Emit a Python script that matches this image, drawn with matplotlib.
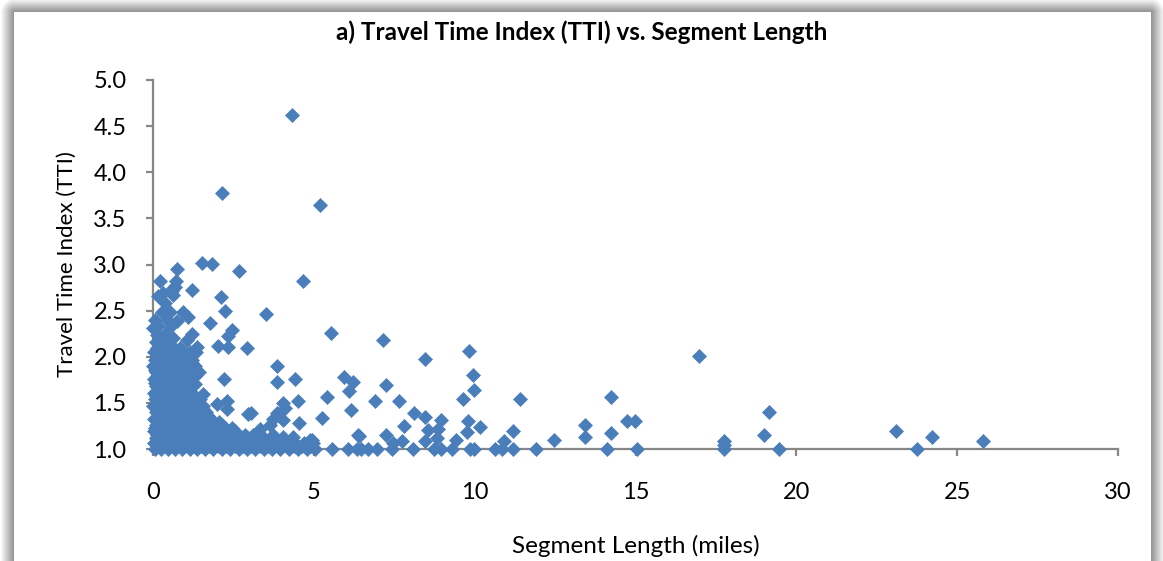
import numpy as np
import matplotlib
matplotlib.use("Agg")
import matplotlib.pyplot as plt

# scattered segments: (segment length [miles], TTI)
spread_pts = [
    (4.33, 4.62), (2.15, 3.77), (5.19, 3.64),
    (0.74, 2.95), (1.51, 3.02), (1.82, 3.01), (2.67, 2.93), (4.65, 2.82),
    (0.22, 2.82), (0.71, 2.82), (1.20, 2.72), (2.10, 2.65), (0.16, 2.66),
    (0.31, 2.69), (0.62, 2.75), (0.68, 2.76), (0.58, 2.71), (0.63, 2.67),
    (2.24, 2.50), (3.50, 2.46), (0.92, 2.48), (1.09, 2.43), (1.77, 2.37),
    (0.74, 2.39), (0.37, 2.58), (0.27, 2.49), (0.53, 2.49),
    (5.53, 2.26), (2.45, 2.29), (2.33, 2.22), (2.01, 2.12), (2.33, 2.11),
    (2.91, 2.09), (1.36, 2.11), (0.00, 2.31), (0.11, 2.24), (0.37, 2.25),
    (1.20, 2.25), (0.63, 2.20), (1.05, 2.18), (0.22, 2.11),
    (3.86, 1.90), (2.21, 1.76), (3.85, 1.73), (4.41, 1.76), (5.40, 1.56),
    (4.52, 1.52), (4.05, 1.50), (5.24, 1.34), (4.55, 1.28), (2.96, 1.38),
    (1.98, 1.49), (2.29, 1.43), (2.31, 1.52), (1.31, 1.71), (1.56, 1.60),
    (7.16, 2.18), (5.94, 1.78), (6.23, 1.73), (6.10, 1.63), (6.15, 1.42),
    (7.23, 1.69), (6.90, 1.52), (7.66, 1.52), (8.46, 1.98), (9.82, 2.06),
    (9.96, 1.80), (9.98, 1.64), (9.65, 1.54), (11.41, 1.54), (8.11, 1.39),
    (8.46, 1.35), (8.94, 1.31), (8.54, 1.21), (8.87, 1.22), (7.80, 1.25),
    (7.24, 1.15), (7.73, 1.09), (7.45, 1.07), (6.39, 1.14), (8.46, 1.09),
    (8.82, 1.12), (9.80, 1.30), (9.75, 1.18), (10.16, 1.24), (9.42, 1.10),
    (11.20, 1.20), (10.91, 1.09), (12.46, 1.10), (13.44, 1.26), (13.44, 1.13),
    (14.23, 1.56), (14.75, 1.30), (14.98, 1.30), (14.23, 1.17), (14.10, 1.00),
    (15.05, 1.00), (16.96, 2.01), (19.16, 1.40), (18.99, 1.15), (19.47, 1.00),
    (17.76, 1.09), (17.76, 1.04), (17.76, 1.00), (23.10, 1.20), (23.74, 1.00),
    (24.21, 1.13), (25.79, 1.09),
    (4.10, 1.44), (4.05, 1.31), (3.84, 1.39), (3.74, 1.33), (3.64, 1.26),
    (3.33, 1.22), (3.05, 1.39), (3.43, 1.13), (3.74, 1.15), (4.05, 1.13),
    (4.36, 1.13), (4.88, 1.10), (4.98, 1.06), (6.38, 1.15), (4.36, 1.08),
    (4.93, 1.10),
    (5.55, 1.00), (6.07, 1.00), (6.33, 1.00), (6.46, 1.00), (6.69, 1.00),
    (6.95, 1.00), (7.42, 1.00), (8.09, 1.00), (8.73, 1.00), (8.94, 1.00),
    (9.28, 1.00), (9.85, 1.00), (9.98, 1.00), (10.63, 1.00), (10.84, 1.00),
    (11.18, 1.00), (11.90, 1.00),
]

# dense group of short segments, listed row by row (TTI: lengths)
dense_rows = {
    2.40: [0.05, 0.45],
    2.33: [0.15, 0.55],
    2.16: [0.08, 0.30, 0.48],
    2.10: [0.12, 0.40, 0.65, 0.85],
    2.05: [0.02, 0.18, 0.35, 0.55, 0.72, 0.95, 1.15, 1.35],
    2.00: [0.10, 0.32, 0.52, 0.90, 1.10],
    1.97: [0.06, 0.25, 0.42, 0.60, 0.80, 1.02, 1.22],
    1.93: [0.12, 0.38, 0.58, 0.78, 0.98, 1.20],
    1.90: [0.01, 0.15, 0.33, 0.50, 0.68, 0.88, 1.10, 1.30],
    1.86: [0.05, 0.22, 0.40, 0.72, 0.92, 1.12, 1.35],
    1.83: [0.08, 0.26, 0.44, 0.62, 0.82, 1.00, 1.20, 1.42],
    1.79: [0.12, 0.30, 0.50, 0.70, 0.90, 1.10, 1.30],
    1.76: [0.03, 0.20, 0.38, 0.56, 0.75, 0.95, 1.12],
    1.72: [0.06, 0.24, 0.42, 0.60, 0.80, 1.00],
    1.68: [0.10, 0.28, 0.46, 0.65, 0.84, 1.05, 1.18],
    1.64: [0.14, 0.32, 0.52, 0.70, 0.90, 1.08],
    1.61: [0.02, 0.18, 0.36, 0.55, 0.74, 0.92, 1.12],
    1.57: [0.10, 0.30, 0.48, 0.68, 0.88, 1.10, 1.30],
    1.54: [0.07, 0.25, 0.43, 0.62, 0.82, 1.02, 1.22, 1.45],
    1.50: [0.12, 0.30, 0.50, 0.70, 0.92, 1.15, 1.38],
    1.47: [0.01, 0.16, 0.34, 0.52, 0.72, 0.90, 1.10, 1.32, 1.55],
    1.43: [0.12, 0.30, 0.50, 0.70, 0.92, 1.12, 1.35, 1.55],
    1.40: [0.08, 0.26, 0.44, 0.63, 0.82, 1.02, 1.22, 1.42, 1.65],
    1.36: [0.14, 0.32, 0.50, 0.70, 0.90, 1.10, 1.30, 1.50, 1.72],
    1.33: [0.03, 0.20, 0.38, 0.56, 0.75, 0.95, 1.15, 1.36, 1.58, 1.80],
    1.29: [0.12, 0.30, 0.52, 0.72, 0.92, 1.12, 1.35, 1.60, 1.85, 2.05],
    1.26: [0.10, 0.28, 0.47, 0.66, 0.86, 1.06, 1.27, 1.48, 1.70, 1.92, 2.15],
    1.23: [0.05, 0.22, 0.42, 0.62, 0.82, 1.02, 1.25, 1.50, 1.75, 2.00, 2.25,
           2.45],
    1.19: [0.02, 0.18, 0.36, 0.55, 0.75, 0.95, 1.16, 1.38, 1.60, 1.83, 2.05,
           2.30, 2.55],
    1.15: [0.12, 0.30, 0.50, 0.70, 0.92, 1.15, 1.40, 1.65, 1.90, 2.12, 2.38,
           2.62, 2.85, 3.12],
    1.12: [0.08, 0.26, 0.45, 0.65, 0.86, 1.07, 1.30, 1.52, 1.75, 1.98, 2.22,
           2.46, 2.72, 3.00, 3.25],
    1.09: [0.14, 0.34, 0.55, 0.75, 0.96, 1.18, 1.40, 1.64, 1.88, 2.12, 2.36,
           2.60, 2.88, 3.15, 3.40, 3.65, 3.95],
    1.06: [0.02, 0.20, 0.40, 0.60, 0.82, 1.05, 1.28, 1.52, 1.76, 2.00, 2.25,
           2.50, 2.76, 3.02, 3.28, 3.55, 3.82, 4.10, 4.40, 4.70],
    1.03: [0.12, 0.32, 0.55, 0.78, 1.00, 1.25, 1.50, 1.75, 2.02, 2.28, 2.54,
           2.80, 3.06, 3.32, 3.58, 3.84, 4.12, 4.38, 4.62, 4.90],
    1.00: [0.05, 0.25, 0.46, 0.68, 0.90, 1.14, 1.38, 1.62, 1.88, 2.14, 2.40,
           2.66, 2.92, 3.18, 3.44, 3.70, 3.96, 4.22, 4.50, 4.78, 5.05],
}

seg_len = [p[0] for p in spread_pts]
tti = [p[1] for p in spread_pts]
for yv, xs in dense_rows.items():
    seg_len += xs
    tti += [yv] * len(xs)

W, H = 1163, 561
fig = plt.figure(figsize=(W / 100, H / 100), dpi=100)

# drop-shadow frame around the chart area
bg = fig.add_axes([0, 0, 1, 1], zorder=-10)
yy, xx = np.mgrid[0:H, 0:W]
x0, x1, y0 = 14, 1150, 12
dx = np.maximum(np.maximum(x0 - xx, xx - x1), 0)
dy = np.maximum(y0 - yy, 0)
d = np.sqrt(dx ** 2 + dy ** 2)
shade = np.where(d > 0, 0.55 + 0.45 * np.clip(d / 14.0, 0, 1), 1.0)
bg.imshow(shade, cmap="gray", vmin=0, vmax=1, aspect="auto",
          extent=[0, W, H, 0], interpolation="bilinear")
bg.set_axis_off()

ax = fig.add_axes([153 / W, 1 - 449 / H, (1118 - 153) / W, (449 - 80) / H])
ax.plot(seg_len, tti, "D", color="#4A7EBB", ms=7.6, mec="#4A7EBB",
        mew=0.5, clip_on=False, zorder=5)

font = "Lato"
ax.set_xlim(0, 30)
ax.set_ylim(1.0, 5.0)
ax.set_xticks(np.arange(0, 31, 5))
ax.set_yticks(np.arange(1.0, 5.01, 0.5))
ax.set_yticklabels(["%.1f" % v for v in np.arange(1.0, 5.01, 0.5)])

for s in ["top", "right"]:
    ax.spines[s].set_visible(False)
for s in ["left", "bottom"]:
    ax.spines[s].set_color("#878787")
    ax.spines[s].set_linewidth(1.6)
ax.tick_params(axis="both", colors="#878787", length=5, width=1.6,
               labelcolor="black", labelsize=17)
ax.tick_params(axis="x", pad=19)
ax.tick_params(axis="y", pad=14)
for lab in ax.get_xticklabels() + ax.get_yticklabels():
    lab.set_fontfamily(font)

ax.set_xlabel("Segment Length (miles)", fontsize=17.5, fontfamily=font,
              labelpad=23)
ax.set_ylabel("Travel Time Index (TTI)", fontsize=16, fontfamily=font,
              labelpad=12)
fig.text(0.5, 1 - 32 / H, "a) Travel Time Index (TTI) vs. Segment Length",
         ha="center", va="center", fontsize=17.5, fontweight="bold",
         fontfamily=font)

fig.savefig("out.png", dpi=100)
